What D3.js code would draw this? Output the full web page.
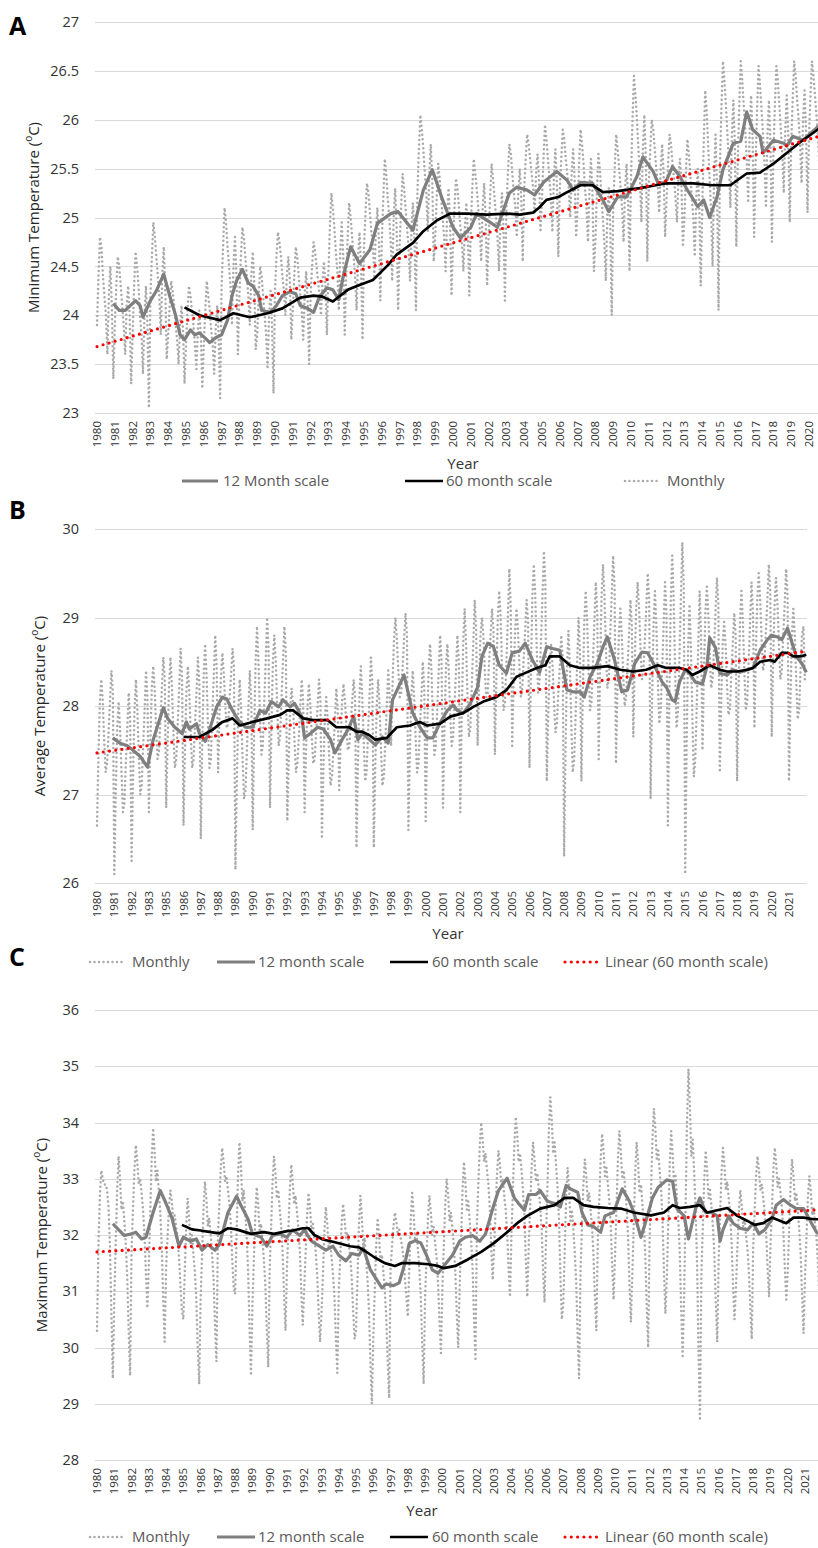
<!DOCTYPE html>
<meta charset="utf-8">
<style>
body { margin: 0; background: #fff; }
svg text { font-family: "Open Sans", sans-serif; }
.grid { stroke: #d9d9d9; stroke-width: 1; }
.monthly { fill: none; stroke: #a9a9a9; stroke-width: 2.5; stroke-dasharray: 0 4.5; stroke-linecap: round; }
.m12 { fill: none; stroke: #7f7f7f; stroke-width: 3.2; stroke-linejoin: round; }
.m60 { fill: none; stroke: #000; stroke-width: 2.7; stroke-linejoin: round; }
.trend { fill: none; stroke: #ff0000; stroke-width: 3.2; stroke-dasharray: 0 6.3; stroke-linecap: round; }
</style>
<body>
<script src="https://d3js.org/d3.v7.min.js"></script>
<script>

// ---------- tick labels ----------
var yearsA = ["1980","1981","1982","1983","1984","1985","1986","1987","1988","1989","1990","1991","1992","1993","1994","1995","1996","1997","1998","1999","2000","2001","2002","2003","2004","2005","2006","2007","2008","2009","2010","2011","2012","2013","2014","2015","2016","2017","2018","2019","2020"];
var yearsB = ["1980","1981","1982","1983","1985","1986","1987","1988","1989","1990","1991","1992","1993","1994","1995","1996","1997","1998","1999","2000","2001","2002","2003","2004","2005","2006","2007","2008","2009","2010","2011","2012","2013","2014","2015","2016","2017","2018","2019","2020","2021"];
var yearsC = ["1980","1981","1982","1983","1984","1985","1986","1987","1988","1989","1990","1991","1992","1993","1994","1995","1996","1997","1998","1999","2000","2001","2002","2003","2004","2005","2006","2007","2008","2009","2010","2011","2012","2013","2014","2015","2016","2017","2018","2019","2020","2021"];

// ---------- A: minimum temperature, monthly (one row per year) ----------
var minMonthly = [
 [23.9,24.4,24.8,24.7,24.4,24.2,24.0,23.6,24.2,24.5,24.1,23.35],
 [23.9,24.3,24.6,24.5,24.3,24.1,23.9,23.6,24.1,24.3,24.0,23.3],
 [23.8,24.3,24.65,24.5,24.3,24.0,23.8,23.4,24.0,24.3,23.9,23.05],
 [24.2,24.6,24.95,24.8,24.6,24.4,24.2,23.8,24.4,24.7,24.3,23.55],
 [23.8,24.1,24.35,24.25,24.1,23.9,23.75,23.5,23.9,24.1,23.85,23.3],
 [23.7,24.05,24.3,24.2,24.05,23.9,23.7,23.45,23.85,24.05,23.8,23.25],
 [23.7,24.05,24.35,24.2,24.05,23.85,23.7,23.4,23.85,24.1,23.8,23.15],
 [24.3,24.7,25.1,24.95,24.7,24.5,24.3,23.9,24.5,24.8,24.4,23.6],
 [24.2,24.6,24.9,24.8,24.6,24.4,24.2,23.9,24.4,24.65,24.35,23.65],
 [23.8,24.2,24.5,24.4,24.2,24.0,23.8,23.45,24.0,24.25,23.9,23.2],
 [24.25,24.6,24.85,24.75,24.6,24.4,24.25,24.0,24.4,24.6,24.35,23.75],
 [24.05,24.4,24.7,24.6,24.4,24.2,24.05,23.75,24.2,24.45,24.15,23.5],
 [24.2,24.5,24.75,24.65,24.5,24.35,24.2,24.0,24.35,24.55,24.3,23.8],
 [24.45,24.9,25.25,25.1,24.9,24.65,24.45,24.05,24.65,24.95,24.6,23.8],
 [24.4,24.8,25.15,25.0,24.8,24.6,24.4,24.05,24.6,24.85,24.5,23.75],
 [24.7,25.05,25.35,25.25,25.05,24.85,24.7,24.4,24.85,25.1,24.8,24.15],
 [24.75,25.2,25.6,25.45,25.2,25.0,24.75,24.35,25.0,25.3,24.9,24.05],
 [24.7,25.1,25.45,25.3,25.1,24.9,24.7,24.35,24.9,25.15,24.8,24.05],
 [25.25,25.7,26.05,25.9,25.7,25.45,25.25,24.85,25.45,25.75,25.4,24.55],
 [24.8,25.2,25.55,25.4,25.2,25.0,24.8,24.45,25.0,25.3,24.95,24.2],
 [24.75,25.1,25.4,25.3,25.1,24.9,24.75,24.45,24.9,25.15,24.85,24.2],
 [24.9,25.3,25.6,25.45,25.3,25.1,24.9,24.55,25.1,25.35,25.0,24.3],
 [24.8,25.2,25.55,25.4,25.2,25.0,24.8,24.45,25.0,25.25,24.9,24.15],
 [25.1,25.45,25.75,25.65,25.45,25.25,25.1,24.8,25.25,25.5,25.2,24.55],
 [25.3,25.6,25.85,25.75,25.6,25.45,25.3,25.05,25.45,25.65,25.4,24.85],
 [25.2,25.6,25.95,25.8,25.6,25.4,25.2,24.85,25.4,25.7,25.35,24.6],
 [25.3,25.6,25.9,25.8,25.6,25.45,25.3,25.0,25.45,25.7,25.4,24.8],
 [25.1,25.55,25.9,25.75,25.55,25.3,25.1,24.75,25.3,25.6,25.25,24.45],
 [24.75,25.25,25.65,25.5,25.25,25.0,24.75,24.35,25.0,25.3,24.9,24.0],
 [25.1,25.5,25.85,25.7,25.5,25.3,25.1,24.75,25.3,25.55,25.2,24.45],
 [25.4,26.0,26.45,26.25,26.0,25.7,25.4,24.95,25.7,26.05,25.6,24.55],
 [25.35,25.7,26.0,25.9,25.7,25.5,25.35,25.05,25.5,25.75,25.45,24.8],
 [25.2,25.55,25.85,25.75,25.55,25.4,25.2,24.95,25.4,25.6,25.35,24.7],
 [25.0,25.45,25.8,25.65,25.45,25.2,25.0,24.6,25.2,25.5,25.15,24.3],
 [25.05,25.75,26.3,26.1,25.75,25.4,25.05,24.5,25.4,25.85,25.3,24.05],
 [25.55,26.15,26.6,26.4,26.15,25.85,25.55,25.1,25.85,26.2,25.75,24.7],
 [25.6,26.15,26.6,26.4,26.15,25.9,25.6,25.15,25.9,26.25,25.8,24.8],
 [25.55,26.1,26.55,26.35,26.1,25.85,25.55,25.1,25.85,26.2,25.75,24.75],
 [25.65,26.15,26.55,26.4,26.15,25.9,25.65,25.25,25.9,26.25,25.85,24.95],
 [25.75,26.2,26.6,26.45,26.2,26.0,25.75,25.35,26.0,26.3,25.9,25.05],
 [25.85,26.25,26.6,26.45,26.25,26.05,25.85,25.5,26.05,26.35,26.0,25.25]
];
// [month index, value]
var min12 = [[11,24.12],[15,24.05],[19,24.05],[26,24.15],[29,24.1],[31,23.98],[36,24.15],[40,24.25],[45,24.42],[49,24.2],[53,24.0],[56,23.8],[59,23.75],[63,23.85],[66,23.8],[69,23.82],[74,23.75],[76,23.72],[80,23.77],[84,23.8],[88,23.95],[91,24.2],[94,24.35],[98,24.47],[102,24.33],[105,24.3],[109,24.2],[111,24.05],[117,24.03],[121,24.1],[125,24.2],[130,24.24],[134,24.22],[137,24.1],[142,24.07],[146,24.03],[150,24.19],[155,24.28],[159,24.26],[163,24.16],[166,24.4],[171,24.7],[177,24.53],[184,24.67],[189,24.94],[198,25.04],[203,25.06],[213,24.87],[220,25.28],[226,25.49],[233,25.18],[240,24.9],[245,24.79],[252,24.9],[256,25.04],[263,24.97],[270,24.9],[278,25.25],[283,25.31],[290,25.28],[295,25.23],[301,25.36],[310,25.47],[317,25.38],[321,25.28],[326,25.36],[334,25.35],[341,25.18],[345,25.06],[351,25.21],[357,25.21],[364,25.42],[368,25.62],[375,25.47],[378,25.36],[383,25.35],[388,25.52],[393,25.42],[398,25.28],[401,25.21],[405,25.11],[409,25.18],[413,25.0],[418,25.21],[422,25.49],[429,25.76],[434,25.78],[438,26.08],[442,25.9],[447,25.83],[449,25.66],[456,25.79],[463,25.76],[465,25.73],[469,25.83],[476,25.79],[481,25.86],[486,25.93],[491,25.95]];
var min60 = [[59,24.08],[69,24.0],[83,23.95],[92,24.02],[103,23.98],[115,24.02],[125,24.07],[137,24.18],[146,24.2],[152,24.19],[159,24.14],[169,24.26],[177,24.31],[186,24.36],[196,24.51],[202,24.62],[213,24.74],[220,24.86],[229,24.97],[238,25.04],[250,25.04],[263,25.03],[276,25.04],[285,25.03],[294,25.05],[298,25.1],[303,25.18],[311,25.21],[317,25.26],[326,25.33],[334,25.33],[341,25.26],[351,25.27],[366,25.3],[384,25.35],[402,25.35],[415,25.33],[427,25.33],[438,25.45],[447,25.46],[456,25.55],[465,25.66],[474,25.77],[486,25.9],[491,25.92]];
var minTrend = [[0,23.68],[491,25.85]];

// ---------- B: average temperature ----------
var avgMonthly = [
 [26.65,27.45,28.05,28.3,28.05,27.6,27.25,27.35,27.7,28.05,28.4,28.15],
 [26.1,27.0,27.75,28.05,27.75,27.25,26.8,26.9,27.35,27.75,28.15,27.85],
 [26.25,27.2,27.95,28.3,27.95,27.45,27.0,27.1,27.55,27.95,28.4,28.1],
 [26.8,27.6,28.2,28.45,28.2,27.75,27.4,27.5,27.85,28.2,28.55,28.3],
 [26.85,27.6,28.25,28.55,28.2,27.7,27.3,27.4,27.8,28.2,28.65,28.3],
 [26.65,27.5,28.15,28.45,28.15,27.7,27.3,27.4,27.8,28.15,28.55,28.25],
 [26.5,27.55,28.35,28.7,28.35,27.75,27.3,27.4,27.9,28.35,28.8,28.45],
 [27.25,27.9,28.35,28.6,28.35,28.0,27.75,27.8,28.1,28.35,28.65,28.45],
 [26.15,27.15,27.95,28.3,27.95,27.4,26.95,27.05,27.5,27.95,28.4,28.05],
 [26.6,27.7,28.5,28.9,28.5,27.9,27.45,27.55,28.05,28.5,29.0,28.65],
 [26.85,27.75,28.5,28.8,28.5,28.0,27.55,27.65,28.1,28.5,28.9,28.6],
 [26.7,27.4,28.0,28.2,28.0,27.6,27.25,27.35,27.65,28.0,28.3,28.05],
 [26.8,27.5,28.0,28.25,28.0,27.65,27.35,27.4,27.7,28.0,28.3,28.05],
 [26.5,27.25,27.85,28.1,27.85,27.45,27.1,27.2,27.5,27.85,28.2,27.95],
 [27.05,27.6,28.05,28.25,28.05,27.75,27.5,27.55,27.8,28.05,28.3,28.1],
 [26.4,27.35,28.1,28.45,28.1,27.6,27.15,27.25,27.7,28.1,28.55,28.25],
 [26.4,27.3,28.0,28.3,28.0,27.5,27.1,27.2,27.6,28.0,28.4,28.1],
 [27.55,28.25,28.75,29.0,28.75,28.4,28.1,28.15,28.45,28.75,29.05,28.8],
 [26.6,27.45,28.1,28.4,28.1,27.65,27.25,27.35,27.75,28.1,28.5,28.2],
 [26.7,27.65,28.4,28.7,28.4,27.85,27.45,27.55,27.95,28.4,28.8,28.5],
 [26.85,27.75,28.4,28.7,28.4,27.9,27.55,27.65,28.0,28.4,28.8,28.5],
 [26.8,27.9,28.7,29.1,28.7,28.1,27.65,27.75,28.25,28.7,29.2,28.85],
 [27.55,28.25,28.8,29.0,28.8,28.4,28.1,28.15,28.5,28.8,29.1,28.85],
 [27.45,28.3,29.0,29.3,29.0,28.4,27.95,28.05,28.5,29.0,29.55,29.1],
 [27.55,28.3,28.85,29.1,28.85,28.45,28.1,28.2,28.55,28.85,29.2,28.95],
 [27.3,28.4,29.25,29.6,29.25,28.65,28.15,28.3,28.75,29.25,29.75,29.4],
 [27.15,27.9,28.45,28.7,28.45,28.05,27.7,27.8,28.15,28.45,28.8,28.55],
 [26.3,27.5,28.45,28.85,28.45,27.8,27.25,27.4,27.9,28.45,29.0,28.6],
 [27.15,28.15,28.95,29.3,28.95,28.4,27.95,28.05,28.5,28.95,29.4,29.05],
 [27.4,28.45,29.25,29.6,29.25,28.65,28.2,28.3,28.8,29.25,29.7,29.35],
 [27.35,28.2,28.8,29.1,28.8,28.35,28.0,28.1,28.45,28.8,29.2,28.9],
 [27.65,28.5,29.1,29.4,29.1,28.65,28.3,28.4,28.75,29.1,29.5,29.2],
 [26.95,28.05,28.9,29.3,28.9,28.3,27.8,27.95,28.4,28.9,29.4,29.05],
 [26.65,28.1,29.2,29.7,29.2,28.4,27.75,27.95,28.55,29.2,29.85,29.35],
 [26.1,27.55,28.65,29.15,28.65,27.85,27.2,27.4,28.0,28.65,29.3,28.8],
 [27.5,28.4,29.05,29.35,29.05,28.6,28.2,28.3,28.65,29.05,29.45,29.15],
 [27.25,28.05,28.7,28.95,28.7,28.25,27.9,27.95,28.35,28.7,29.05,28.8],
 [27.15,28.15,28.95,29.3,28.95,28.4,27.95,28.05,28.5,28.95,29.4,29.05],
 [27.75,28.6,29.2,29.5,29.2,28.75,28.4,28.5,28.85,29.2,29.6,29.3],
 [27.65,28.5,29.15,29.45,29.15,28.7,28.3,28.4,28.8,29.15,29.55,29.25],
 [27.15,28.05,28.8,29.1,28.8,28.3,27.85,27.95,28.4,28.8,28.9,28.3]
];
var avg12 = [[11,27.64],[16,27.58],[21,27.55],[25,27.5],[30,27.43],[35,27.31],[39,27.62],[46,27.98],[49,27.86],[54,27.76],[59,27.69],[62,27.82],[64,27.74],[69,27.8],[71,27.69],[75,27.6],[78,27.73],[83,27.99],[87,28.1],[90,28.08],[94,27.95],[98,27.84],[103,27.76],[108,27.76],[113,27.95],[117,27.92],[121,28.05],[126,27.99],[129,28.07],[134,27.99],[137,28.03],[142,27.88],[144,27.64],[148,27.69],[153,27.76],[157,27.74],[162,27.62],[165,27.47],[170,27.62],[174,27.73],[178,27.88],[181,27.62],[184,27.69],[189,27.62],[193,27.56],[198,27.65],[202,27.58],[205,28.07],[209,28.21],[213,28.35],[215,28.21],[219,27.92],[224,27.76],[229,27.64],[233,27.64],[238,27.81],[243,27.95],[247,28.01],[250,27.95],[254,27.92],[259,28.03],[264,28.21],[267,28.56],[271,28.71],[275,28.67],[279,28.46],[284,28.37],[288,28.6],[293,28.62],[297,28.71],[302,28.52],[307,28.38],[312,28.67],[316,28.65],[321,28.63],[326,28.18],[330,28.16],[335,28.16],[338,28.1],[342,28.33],[347,28.48],[351,28.67],[354,28.78],[359,28.52],[364,28.16],[368,28.18],[373,28.48],[378,28.61],[382,28.6],[386,28.48],[392,28.27],[395,28.21],[399,28.07],[401,28.05],[404,28.27],[408,28.41],[411,28.37],[415,28.27],[420,28.25],[423,28.44],[425,28.77],[429,28.66],[432,28.37],[437,28.35],[441,28.41],[446,28.38],[451,28.41],[455,28.43],[460,28.63],[465,28.75],[468,28.8],[472,28.78],[475,28.75],[479,28.88],[482,28.72],[485,28.56],[489,28.48],[492,28.38]];
var avg60 = [[60,27.65],[71,27.65],[80,27.73],[87,27.82],[94,27.86],[99,27.78],[108,27.82],[118,27.86],[127,27.9],[132,27.95],[136,27.95],[143,27.86],[150,27.84],[160,27.84],[166,27.76],[175,27.76],[180,27.71],[184,27.71],[189,27.67],[193,27.62],[201,27.64],[208,27.76],[217,27.78],[224,27.82],[229,27.78],[238,27.8],[245,27.88],[254,27.92],[261,27.99],[268,28.05],[277,28.1],[284,28.18],[291,28.33],[298,28.38],[305,28.43],[311,28.46],[314,28.56],[321,28.56],[328,28.46],[335,28.43],[344,28.43],[354,28.45],[363,28.41],[372,28.39],[381,28.41],[389,28.46],[395,28.43],[404,28.43],[409,28.41],[413,28.35],[418,28.39],[425,28.46],[432,28.41],[437,28.39],[444,28.39],[451,28.41],[455,28.43],[460,28.5],[467,28.52],[470,28.5],[475,28.6],[479,28.6],[483,28.56],[488,28.56],[492,28.58]];
var avgTrend = [[0,27.47],[492,28.62]];

// ---------- C: maximum temperature ----------
var maxMonthly = [
 [30.3,31.8,32.7,33.15,33.0,32.9,32.9,32.8,32.5,31.8,30.6,29.45],
 [30.85,31.85,32.8,33.4,33.0,32.45,32.6,32.25,31.85,31.25,30.3,29.5],
 [31.7,32.45,33.15,33.6,33.3,32.9,33.0,32.75,32.45,32.0,31.3,30.7],
 [31.45,32.4,33.35,33.9,33.5,32.95,33.15,32.75,32.4,31.8,30.85,30.1],
 [31.4,31.95,32.5,32.8,32.6,32.25,32.35,32.15,31.95,31.6,31.1,30.65],
 [30.5,31.35,32.15,32.65,32.3,31.85,32.0,31.65,31.35,30.85,30.0,29.35],
 [30.85,31.65,32.45,32.95,32.65,32.15,32.3,32.0,31.65,31.2,30.4,29.75],
 [31.95,32.55,33.2,33.55,33.3,32.95,33.05,32.8,32.55,32.2,31.55,31.05],
 [30.95,32.0,33.05,33.65,33.25,32.6,32.8,32.4,32.0,31.35,30.35,29.5],
 [30.75,31.55,32.35,32.85,32.55,32.05,32.2,31.9,31.55,31.1,30.3,29.65],
 [31.4,32.15,32.95,33.4,33.1,32.65,32.8,32.45,32.15,31.7,30.9,30.3],
 [31.4,32.1,32.8,33.25,32.95,32.55,32.7,32.4,32.1,31.7,30.95,30.4],
 [31.05,31.7,32.35,32.75,32.5,32.1,32.2,31.95,31.7,31.3,30.65,30.1],
 [30.6,31.3,32.05,32.5,32.2,31.75,31.9,31.6,31.3,30.9,30.15,29.55],
 [31.0,31.6,32.2,32.55,32.3,31.95,32.05,31.85,31.6,31.25,30.65,30.15],
 [30.3,31.2,32.15,32.7,32.35,31.8,31.95,31.6,31.2,30.65,29.75,29.0],
 [30.2,31.0,31.8,32.3,32.0,31.5,31.65,31.35,31.0,30.55,29.75,29.1],
 [31.4,31.8,32.15,32.4,32.25,32.0,32.1,31.95,31.8,31.6,31.2,30.9],
 [30.55,31.4,32.25,32.75,32.4,31.9,32.05,31.75,31.4,30.9,30.05,29.35],
 [30.9,31.6,32.3,32.7,32.4,32.0,32.15,31.85,31.6,31.15,30.45,29.9],
 [31.05,31.8,32.55,33.0,32.7,32.25,32.4,32.1,31.8,31.35,30.6,30.0],
 [31.05,31.9,32.8,33.3,32.95,32.45,32.6,32.25,31.9,31.4,30.5,29.8],
 [32.2,32.9,33.6,34.0,33.7,33.3,33.45,33.15,32.9,32.45,31.75,31.2],
 [31.8,32.45,33.1,33.5,33.25,32.85,33.0,32.7,32.45,32.05,31.4,30.9],
 [32.0,32.8,33.6,34.1,33.8,33.3,33.45,33.15,32.8,32.35,31.55,30.9],
 [31.8,32.5,33.2,33.65,33.35,32.95,33.1,32.8,32.5,32.1,31.35,30.8],
 [31.9,32.85,33.85,34.45,34.05,33.45,33.65,33.25,32.85,32.3,31.3,30.5],
 [30.75,31.7,32.65,33.2,32.85,32.25,32.45,32.1,31.7,31.15,30.2,29.45],
 [31.35,32.15,32.9,33.35,33.05,32.6,32.75,32.45,32.15,31.65,30.9,30.3],
 [31.9,32.6,33.35,33.8,33.5,33.05,33.2,32.9,32.6,32.2,31.45,30.85],
 [31.65,32.5,33.35,33.85,33.5,33.0,33.15,32.85,32.5,32.0,31.15,30.45],
 [31.3,32.2,33.1,33.65,33.3,32.75,32.9,32.55,32.2,31.65,30.75,30.0],
 [31.9,32.8,33.7,34.25,33.9,33.35,33.5,33.15,32.8,32.25,31.35,30.6],
 [31.25,32.25,33.25,33.85,33.45,32.85,33.05,32.65,32.25,31.65,30.65,29.85],
 [30.9,32.45,34.0,34.95,34.3,33.4,33.7,33.1,32.45,31.5,29.95,28.7],
 [31.3,32.15,33.0,33.5,33.15,32.65,32.8,32.5,32.15,31.65,30.8,30.1],
 [31.55,32.35,33.1,33.55,33.25,32.8,32.95,32.65,32.35,31.85,31.1,30.5],
 [31.05,31.75,32.4,32.8,32.55,32.15,32.3,32.0,31.75,31.35,30.7,30.15],
 [31.8,32.4,33.05,33.4,33.15,32.8,32.9,32.65,32.4,32.05,31.4,30.9],
 [31.8,32.45,33.15,33.55,33.25,32.85,33.0,32.75,32.45,32.05,31.4,30.85],
 [31.35,32.1,32.9,33.35,33.05,32.6,32.75,32.45,32.1,31.65,30.9,30.25],
 [31.25,31.95,32.65,33.05,32.8,32.35,32.5,32.2,31.95,31.5,30.85,30.3]
];
var max12 = [[11,32.2],[19,31.99],[24,32.02],[27,32.05],[31,31.93],[34,31.96],[39,32.4],[44,32.79],[48,32.56],[52,32.31],[57,31.8],[60,31.96],[65,31.89],[69,31.93],[73,31.73],[77,31.83],[82,31.73],[85,31.83],[91,32.4],[97,32.69],[100,32.53],[105,32.28],[108,32.02],[114,31.96],[118,31.8],[122,31.99],[127,32.02],[132,31.96],[136,32.09],[141,31.99],[144,32.09],[149,31.89],[153,31.83],[159,31.73],[164,31.8],[168,31.64],[173,31.54],[177,31.67],[182,31.64],[185,31.77],[190,31.38],[193,31.26],[198,31.06],[201,31.13],[206,31.1],[210,31.15],[214,31.5],[217,31.85],[221,31.9],[225,31.86],[229,31.64],[233,31.38],[237,31.32],[241,31.45],[247,31.64],[252,31.89],[256,31.96],[261,31.99],[266,31.89],[270,32.02],[275,32.47],[279,32.79],[285,33.01],[290,32.66],[293,32.56],[297,32.44],[300,32.72],[305,32.72],[308,32.79],[313,32.6],[318,32.56],[322,32.5],[326,32.88],[329,32.82],[334,32.76],[337,32.4],[341,32.18],[345,32.15],[350,32.05],[353,32.34],[359,32.4],[365,32.82],[370,32.6],[373,32.4],[378,31.96],[381,32.21],[386,32.66],[390,32.85],[396,32.98],[400,32.95],[403,32.47],[408,32.34],[411,31.93],[416,32.47],[419,32.66],[423,32.4],[427,32.4],[431,32.34],[433,31.89],[435,32.09],[439,32.34],[442,32.21],[447,32.12],[452,32.09],[456,32.21],[460,32.02],[464,32.09],[469,32.28],[472,32.53],[477,32.63],[482,32.53],[486,32.47],[491,32.47],[495,32.28],[500,32.05],[503,32.0]];
var max60 = [[59,32.18],[66,32.1],[72,32.08],[79,32.05],[85,32.03],[91,32.12],[97,32.1],[107,32.02],[116,32.05],[123,32.02],[132,32.07],[136,32.08],[143,32.12],[147,32.12],[151,32.0],[157,31.92],[164,31.88],[170,31.84],[176,31.8],[182,31.78],[186,31.72],[193,31.6],[200,31.5],[207,31.45],[212,31.5],[221,31.5],[230,31.48],[237,31.45],[241,31.41],[249,31.45],[258,31.57],[267,31.7],[276,31.86],[285,32.05],[292,32.21],[299,32.34],[308,32.47],[318,32.53],[325,32.66],[331,32.66],[338,32.53],[345,32.5],[355,32.48],[364,32.47],[373,32.4],[385,32.35],[394,32.4],[400,32.53],[405,32.48],[412,32.5],[419,32.53],[424,32.4],[431,32.44],[438,32.48],[445,32.34],[452,32.25],[457,32.18],[463,32.21],[469,32.31],[475,32.25],[479,32.21],[484,32.31],[491,32.31],[498,32.28],[503,32.28]];
var maxTrend = [[0,31.7],[503,32.45]];

// ---------- layout ----------
var W = 818, H = 1548;
var svg = d3.select("body").append("svg")
  .attr("width", W).attr("height", H)
  .style("display", "block");

var lgMonthly = {label: "Monthly", cls: "monthly"},
    lg12 = {label: "12 month scale", cls: "m12"},
    lg60 = {label: "60 month scale", cls: "m60"},
    lgLin = {label: "Linear (60 month scale)", cls: "trend"};

var panels = [
  {letter: "A", letterY: 35, ytitle: "Minimum Temperature (", monthly: minMonthly, s12: min12, s60: min60, trend: minTrend,
   years: yearsA, yDom: [23, 27], yTop: 22, yBot: 413, ticks: [23, 23.5, 24, 24.5, 25, 25.5, 26, 26.5, 27],
   xEndMonth: 480, xEnd: 809, gridEnd: 818, xTitleX: 463, legendY: 481, ytitleX: 39,
   legend: [[{label: "12 Month scale", cls: "m12"}, 182, 218, 223], [lg60, 405, 443, 446], [lgMonthly, 625, 660, 667]]},
  {letter: "B", letterY: 519, ytitle: "Average Temperature (", monthly: avgMonthly, s12: avg12, s60: avg60, trend: avgTrend,
   years: yearsB, yDom: [26, 30], yTop: 529, yBot: 883, ticks: [26, 27, 28, 29, 30],
   xEndMonth: 480, xEnd: 789, gridEnd: 807, xTitleX: 448, legendY: 962, ytitleX: 45,
   legend: [[lgMonthly, 90, 125, 132], [lg12, 217, 255, 258], [lg60, 390, 428, 432], [lgLin, 565, 600, 605]]},
  {letter: "C", letterY: 966, ytitle: "Maximum Temperature (", monthly: maxMonthly, s12: max12, s60: max60, trend: maxTrend,
   years: yearsC, yDom: [28, 36], yTop: 1010, yBot: 1460, ticks: [28, 29, 30, 31, 32, 33, 34, 35, 36],
   xEndMonth: 492, xEnd: 805, gridEnd: 818, xTitleX: 422, legendY: 1537, ytitleX: 47,
   legend: [[lgMonthly, 90, 125, 132], [lg12, 217, 255, 258], [lg60, 390, 428, 432], [lgLin, 565, 600, 605]]}
];

var x0 = 97;

panels.forEach(function(p) {
  var x = d3.scaleLinear().domain([0, p.xEndMonth]).range([x0, p.xEnd]);
  var y = d3.scaleLinear().domain(p.yDom).range([p.yBot, p.yTop]);
  var g = svg.append("g");

  // gridlines
  g.selectAll(".grid").data(p.ticks).enter().append("line")
    .attr("class", "grid")
    .attr("x1", 95).attr("x2", p.gridEnd)
    .attr("y1", function(d) { return Math.round(y(d)) + 0.5; })
    .attr("y2", function(d) { return Math.round(y(d)) + 0.5; });

  // y tick labels
  g.selectAll(".ytick").data(p.ticks).enter().append("text")
    .attr("x", 79).attr("y", function(d) { return y(d); })
    .attr("dy", "0.36em")
    .attr("text-anchor", "end")
    .attr("font-size", 14.5)
    .attr("fill", "#333")
    .text(function(d) { return d; });

  // year labels (one every 12 months)
  g.selectAll(".xtick").data(p.years).enter().append("text")
    .attr("transform", function(d, i) { return "translate(" + x(i * 12) + "," + (p.yBot + 8) + ") rotate(-90)"; })
    .attr("dy", "0.35em")
    .attr("text-anchor", "end")
    .attr("font-size", 11.5)
    .attr("fill", "#333")
    .text(function(d) { return d; });

  // axis titles
  g.append("text")
    .attr("x", p.xTitleX).attr("y", p.yBot + 56)
    .attr("text-anchor", "middle")
    .attr("font-size", 15).attr("fill", "#333")
    .text("Year");

  var yt = g.append("text")
    .attr("transform", "translate(" + p.ytitleX + "," + ((p.yTop + p.yBot) / 2) + ") rotate(-90)")
    .attr("text-anchor", "middle")
    .attr("font-size", 15).attr("fill", "#262626");
  yt.append("tspan").text(p.ytitle);
  yt.append("tspan").attr("font-size", 10).attr("baseline-shift", "super").text("o");
  yt.append("tspan").text("C)");

  // panel letter
  svg.append("text")
    .attr("x", 9).attr("y", p.letterY)
    .attr("font-family", "Liberation Sans, Arial, sans-serif")
    .attr("font-weight", "bold").attr("font-size", 25)
    .attr("fill", "#000")
    .text(p.letter);

  var line = d3.line()
    .x(function(d) { return x(d[0]); })
    .y(function(d) { return y(d[1]); });

  var monthly = p.monthly.flat().map(function(v, i) { return [i, v]; });
  g.append("path").datum(monthly).attr("class", "monthly").attr("d", line);
  g.append("path").datum(p.s12).attr("class", "m12").attr("d", line);
  g.append("path").datum(p.s60).attr("class", "m60").attr("d", line);
  g.append("path").datum(p.trend).attr("class", "trend").attr("d", line);

  // legend
  var lg = g.append("g");
  p.legend.forEach(function(it) {
    var o = it[0];
    lg.append("line")
      .attr("class", o.cls)
      .attr("x1", it[1]).attr("x2", it[2])
      .attr("y1", p.legendY).attr("y2", p.legendY);
    lg.append("text")
      .attr("x", it[3]).attr("y", p.legendY)
      .attr("dy", "0.36em")
      .attr("font-size", 15).attr("fill", "#595959")
      .text(o.label);
  });
});

</script>
</body>
